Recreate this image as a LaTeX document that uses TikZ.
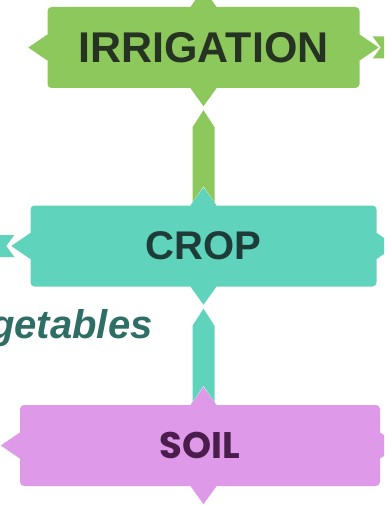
\documentclass[tikz,border=0pt]{standalone}
\usepackage{fontspec}
\setmainfont{Liberation Sans}
\newfontfamily\soilfont{Poppins}
\definecolor{cgrn}{HTML}{8CC85B}
\definecolor{cgrntxt}{HTML}{263322}
\definecolor{ctl}{HTML}{5FD3BC}
\definecolor{ctltxt}{HTML}{1E3B38}
\definecolor{cpur}{HTML}{DE99E8}
\definecolor{cpurtxt}{HTML}{4A1D4C}
\definecolor{cveg}{HTML}{2E6E64}
\newcommand\vdmd[2]{\fill[#2] ([xshift=-13pt]#1) -- ([yshift=18pt]#1) -- ([xshift=13pt]#1) -- ([yshift=-18pt]#1) -- cycle;}
\newcommand\hdmd[2]{\fill[#2] ([yshift=-13pt]#1) -- ([xshift=19pt]#1) -- ([yshift=13pt]#1) -- ([xshift=-19pt]#1) -- cycle;}
\begin{document}
\begin{tikzpicture}[x=1pt,y=-1pt,
  box/.style={rounded corners=4pt, minimum height=81pt, inner sep=0pt},
  bigtxt/.style={font=\bfseries\fontsize{43}{43}\selectfont}]
\useasboundingbox (0,0) rectangle (384,505);
\clip (0,0) rectangle (384,505);
% boxes
\node[box, fill=cgrn, text=cgrntxt, minimum width=312pt, bigtxt] (irr) at (203.5,47.5) {IRRIGATION};
\node[box, fill=ctl, text=ctltxt, minimum width=346pt, font=\bfseries\fontsize{40}{40}\selectfont] (crop) at (203.5,246) {CROP};
\node[box, fill=cpur, text=cpurtxt, minimum width=360pt, font=\soilfont\bfseries\fontsize{37}{37}\selectfont] (soil) at (200,445.5) {SOIL};
\coordinate (sn) at (crop.south |- soil.north);
\coordinate (ss) at (crop.south |- soil.south);
% diamonds
\vdmd{irr.north}{cgrn}
\vdmd{irr.south}{cgrn}
\hdmd{irr.west}{cgrn}
\hdmd{irr.east}{cgrn}
\vdmd{crop.north}{ctl}
\vdmd{crop.south}{ctl}
\hdmd{crop.west}{ctl}
\hdmd{crop.east}{ctl}
\vdmd{sn}{cpur}
\vdmd{ss}{cpur}
\hdmd{soil.west}{cpur}
\hdmd{soil.east}{cpur}
% vertical connectors
\fill[cgrn] ([yshift=-22pt]irr.south) -- ([xshift=11pt,yshift=-39pt]irr.south)
  -- ([xshift=11pt,yshift=3pt]crop.north) -- ([yshift=19pt]crop.north)
  -- ([xshift=-11pt,yshift=3pt]crop.north) -- ([xshift=-11pt,yshift=-39pt]irr.south) -- cycle;
\fill[ctl] ([yshift=-22pt]crop.south) -- ([xshift=11pt,yshift=-39pt]crop.south)
  -- ([xshift=11pt,yshift=3pt]sn) -- ([yshift=19pt]sn)
  -- ([xshift=-11pt,yshift=3pt]sn) -- ([xshift=-11pt,yshift=-39pt]crop.south) -- cycle;
% horizontal connectors (leaving the picture)
\coordinate (cl) at ([xshift=-60pt]crop.west);
\coordinate (ir) at ([xshift=60pt]irr.east);
\fill[ctl] ([xshift=-16pt,yshift=11pt]crop.west) -- ([xshift=-24pt]crop.west)
  -- ([xshift=-16pt,yshift=-11pt]crop.west) -- ([yshift=-11pt]cl) -- ([yshift=11pt]cl) -- cycle;
\fill[cgrn] ([xshift=13pt,yshift=11pt]irr.east) -- ([xshift=21pt]irr.east)
  -- ([xshift=13pt,yshift=-11pt]irr.east) -- ([yshift=-11pt]ir) -- ([yshift=11pt]ir) -- cycle;
% label
\node[anchor=base west, inner sep=0pt, text=cveg, font=\bfseries\itshape\fontsize{40}{40}\selectfont] (veg) at (-10,338) {getables};
\end{tikzpicture}
\end{document}
